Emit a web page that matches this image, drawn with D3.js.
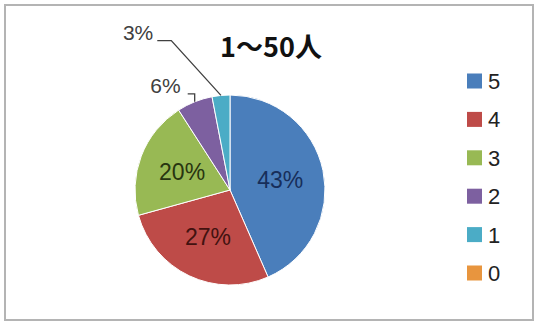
<!DOCTYPE html>
<html><head><meta charset="utf-8">
<script src="https://cdn.jsdelivr.net/npm/d3@7"></script>
<style>html,body{margin:0;padding:0;background:#fff;}</style>
</head><body>
<svg id="c" width="537" height="323"></svg>
<script>
// ---- data ----
const title = "1～50人";
const categories = ["5", "4", "3", "2", "1", "0"];
const values = [43, 27, 20, 6, 3, 0];
const labels = ["43%", "27%", "20%", "6%", "3%", "0%"];
const colors = ["#4A7EBB", "#BE4B48", "#98B954", "#7D60A0", "#4BACC6", "#E8953E"];
const labelColors = ["#172E5A", "#421210", "#283510", "#404040", "#404040", "#404040"];

// ---- layout ----
const W = 537, H = 323;
const cx = 230, cy = 190, R = 95;
const svg = d3.select("#c");
const font = "'Liberation Sans', Arial, sans-serif";

svg.append("rect").attr("x", 5).attr("y", 5).attr("width", 528).attr("height", 315)
  .attr("fill", "#fff").attr("stroke", "#b4b4b4").attr("stroke-width", 2);

svg.append("text").attr("x", 271).attr("y", 57).attr("text-anchor", "middle")
  .attr("font-family", "'Noto Sans CJK JP', sans-serif").attr("font-weight", "bold")
  .attr("font-size", 27).attr("fill", "#111").text(title);

const pie = d3.pie().sort(null).value(d => d.v).startAngle(0).endAngle(2 * Math.PI);
const data = categories.map((c, i) => ({c, v: values[i], i}));
const arcs = pie(data);
const arc = d3.arc().innerRadius(0).outerRadius(R);
const g = svg.append("g").attr("transform", `translate(${cx},${cy})`);

g.selectAll("path").data(arcs.filter(a => a.data.v > 0)).join("path")
  .attr("d", arc).attr("fill", d => colors[d.data.i])
  .attr("stroke", "#fff").attr("stroke-width", 1);

// inside labels
const labelArc = d3.arc().innerRadius(R * 0.54).outerRadius(R * 0.54);
const inside = arcs.filter(a => a.data.v >= 10);
g.selectAll("text.in").data(inside).join("text").attr("class", "in")
  .attr("transform", d => { const p = labelArc.centroid(d); return `translate(${p[0]},${p[1]})`; })
  .attr("text-anchor", "middle").attr("dy", "0.36em")
  .attr("font-family", font).attr("font-size", 23)
  .attr("fill", d => labelColors[d.data.i]).text(d => labels[d.data.i]);

// outside labels with leader lines
const elbows = {3: {rf: 1.0, da: 0, len: 7, gap: 7}, 4: {rf: 1.69, da: -16, len: 14, gap: 4}};
const outside = arcs.filter(a => a.data.v > 0 && a.data.v < 10);
outside.forEach(a => {
  const e = elbows[a.data.i];
  const mid = (a.startAngle + a.endAngle) / 2;
  const p0 = [Math.sin(mid) * R, -Math.cos(mid) * R];
  const ang = mid + e.da * Math.PI / 180;
  let p1 = [Math.sin(ang) * R * e.rf, -Math.cos(ang) * R * e.rf];
  if (a.data.i === 3) p1 = [p0[0], p0[1] - 8];
  const p2 = [p1[0] - e.len, p1[1]];
  g.append("path").attr("d", d3.line()([p0, p1, p2]))
    .attr("fill", "none").attr("stroke", "#404040").attr("stroke-width", 1.3);
  g.append("text").attr("x", p2[0] - e.gap).attr("y", p2[1] - 1)
    .attr("text-anchor", "end").attr("font-family", font).attr("font-size", 21)
    .attr("fill", labelColors[a.data.i]).text(labels[a.data.i]);
});

// legend
const lg = svg.append("g").attr("transform", "translate(467,81)");
const item = lg.selectAll("g").data(categories).join("g")
  .attr("transform", (d, i) => `translate(0,${i * 38.4})`);
item.append("rect").attr("x", 0).attr("y", -7.5).attr("width", 15).attr("height", 15)
  .attr("fill", (d, i) => colors[i]);
item.append("text").attr("x", 21).attr("y", 0).attr("dy", "0.36em")
  .attr("font-family", font).attr("font-size", 22).attr("fill", "#222").text(d => d);
</script>
</body></html>
